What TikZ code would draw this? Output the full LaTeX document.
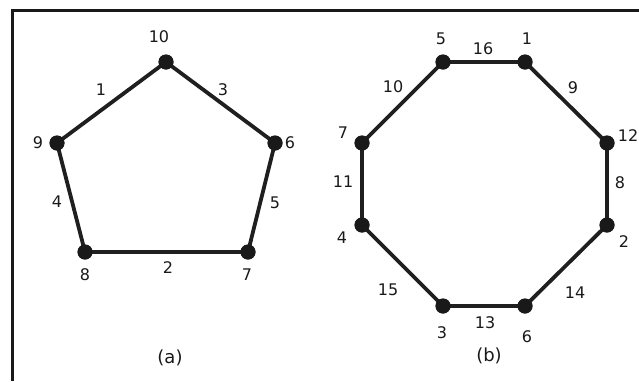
\documentclass[tikz,border=0pt]{standalone}
\usepackage{fontspec}
\setmainfont{DejaVu Sans}
\begin{document}
\begin{tikzpicture}[x=1pt,y=-1pt,
  vtx/.style={circle,fill=black!90,inner sep=0pt,minimum size=15pt},
  edg/.style={line width=3.8pt,draw=black!88},
  lbl/.style={inner sep=0pt,font=\fontsize{16}{18}\selectfont,text=black!90},
  captext/.style={inner sep=0pt,font=\fontsize{18}{20}\selectfont,text=black!90},
  frm/.style={line width=3pt,draw=black!90}]
\useasboundingbox (0,0) rectangle (639,381);
% frame
\coordinate (fb) at (12,381);
\coordinate (ft) at (12,10);
\coordinate (fr) at (639,10);
\draw[frm] (fb) -- (ft) -- (fr);
% pentagon
\node[vtx] (a10) at (166,62) {};
\node[vtx] (a9) at (57,143) {};
\node[vtx] (a6) at (275,143) {};
\node[vtx] (a8) at (85,252) {};
\node[vtx] (a7) at (248,252) {};
\draw[edg] (a10.center) -- (a6.center) -- (a7.center) -- (a8.center) -- (a9.center) -- cycle;
\foreach \n in {a10,a9,a6,a8,a7} \node[vtx] at (\n) {};
\node[lbl] (la10) at (159,37) {10};
\node[lbl] (la9) at (38,143) {9};
\node[lbl] (la6) at (290,143) {6};
\node[lbl] (la8) at (85,275) {8};
\node[lbl] (la7) at (247,275) {7};
\node[lbl] (e1) at (101,90) {1};
\node[lbl] (e3) at (223,90) {3};
\node[lbl] (e4) at (57,202) {4};
\node[lbl] (e5) at (275,203) {5};
\node[lbl] (e2) at (168,268) {2};
\node[captext] (capa) at (170,358) {(a)};
% octagon
\node[vtx] (b5) at (443,62) {};
\node[vtx] (b1) at (525,62) {};
\node[vtx] (b12) at (607,143) {};
\node[vtx] (b2) at (607,225) {};
\node[vtx] (b6) at (525,306) {};
\node[vtx] (b3) at (443,306) {};
\node[vtx] (b4) at (362,225) {};
\node[vtx] (b7) at (362,143) {};
\draw[edg] (b5.center) -- (b1.center) -- (b12.center) -- (b2.center) -- (b6.center) -- (b3.center) -- (b4.center) -- (b7.center) -- cycle;
\foreach \n in {b5,b1,b12,b2,b6,b3,b4,b7} \node[vtx] at (\n) {};
\node[lbl] (lb5) at (441,39) {5};
\node[lbl] (lb1) at (527,39) {1};
\node[lbl] (lb12) at (628,136) {12};
\node[lbl] (lb2) at (624,242) {2};
\node[lbl] (lb6) at (527,337) {6};
\node[lbl] (lb3) at (442,333) {3};
\node[lbl] (lb4) at (342,238) {4};
\node[lbl] (lb7) at (343,133) {7};
\node[lbl] (f16) at (483,49) {16};
\node[lbl] (f9) at (573,88) {9};
\node[lbl] (f10) at (393,87) {10};
\node[lbl] (f11) at (343,182) {11};
\node[lbl] (f8) at (620,183) {8};
\node[lbl] (f15) at (388,290) {15};
\node[lbl] (f14) at (575,293) {14};
\node[lbl] (f13) at (485,323) {13};
\node[captext] (capb) at (489,356) {(b)};
\end{tikzpicture}
\end{document}
